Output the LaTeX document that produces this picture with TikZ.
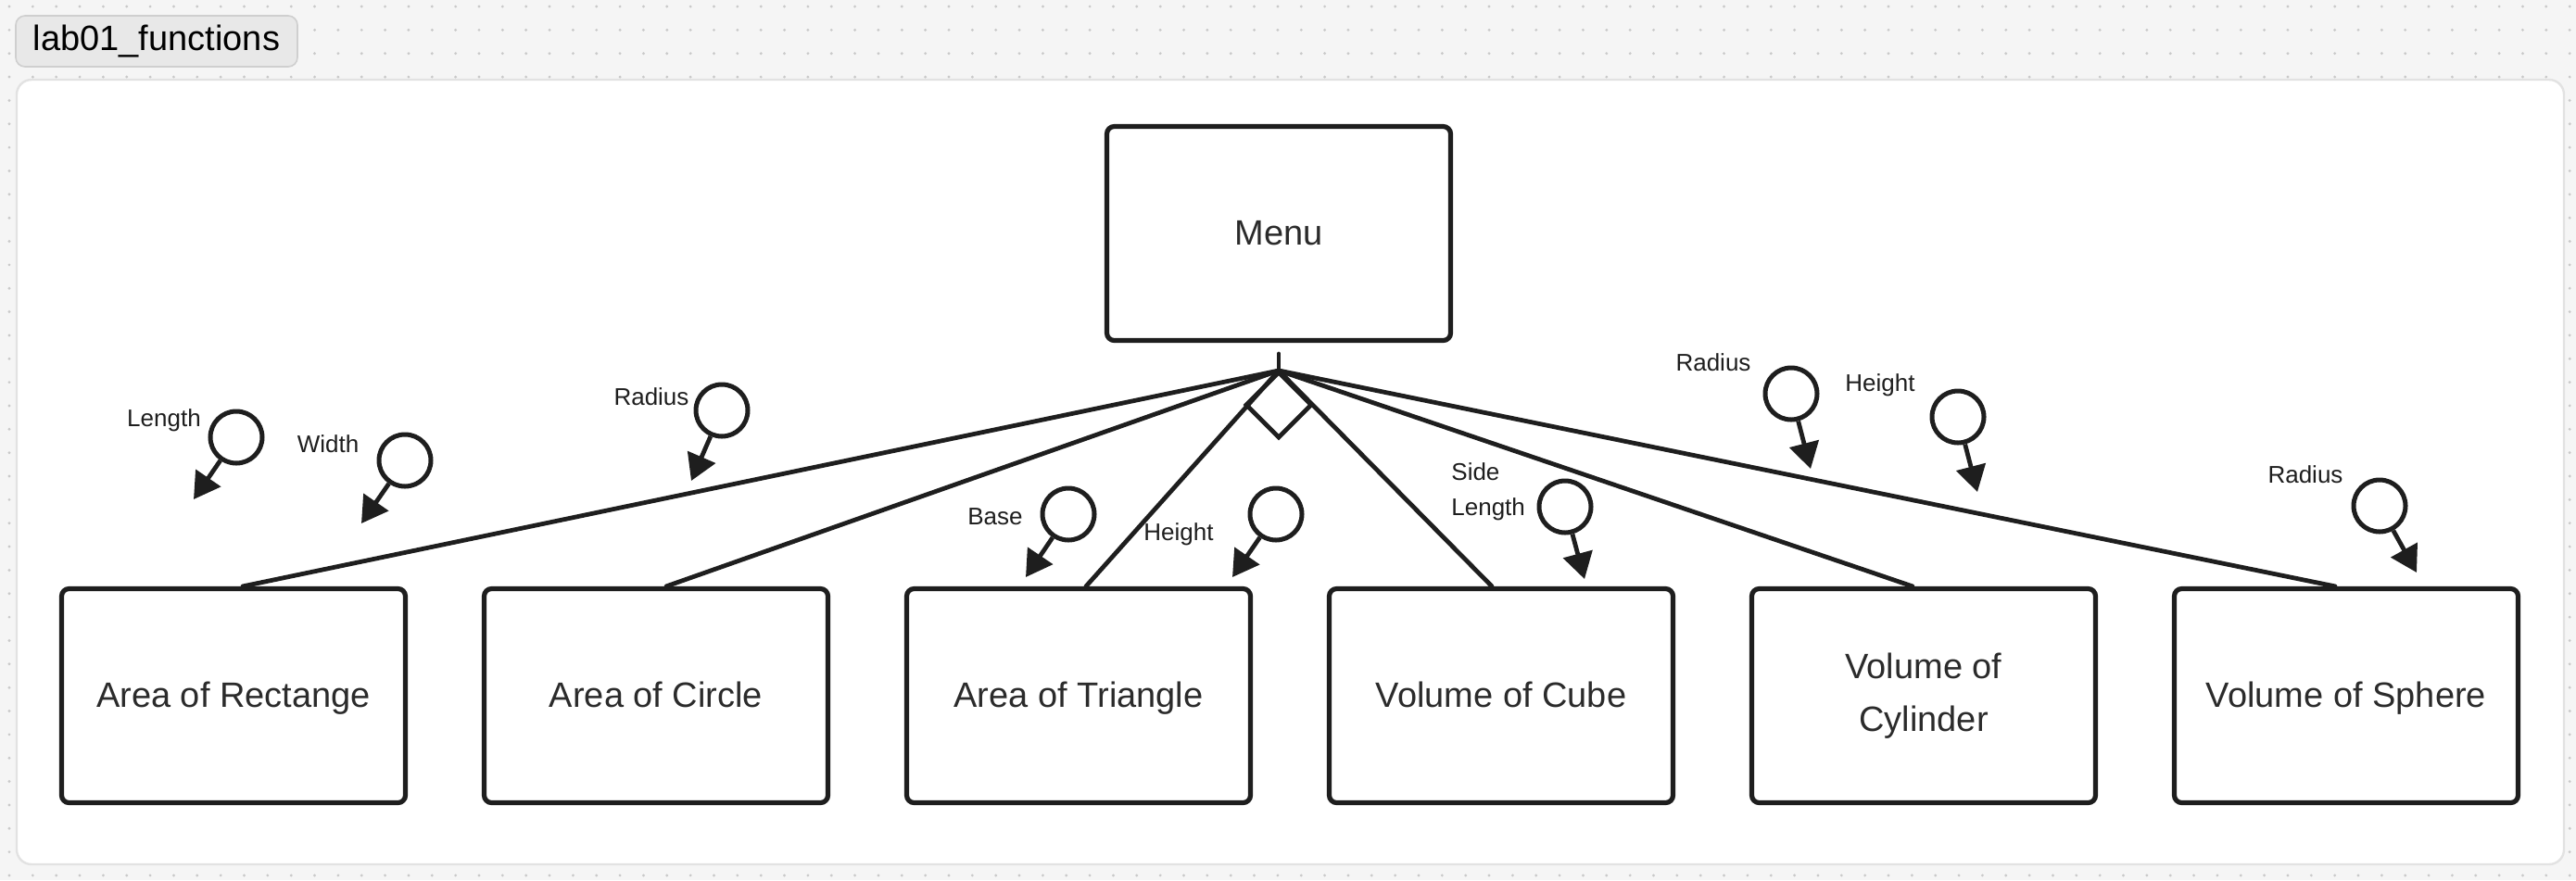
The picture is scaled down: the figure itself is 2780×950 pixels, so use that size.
\documentclass[tikz,border=0pt]{standalone}
\usepackage{fontspec}
\setmainfont{Liberation Sans}
\usetikzlibrary{arrows.meta,shapes.geometric}

\definecolor{ink}{HTML}{1E1E1E}
\definecolor{txt}{HTML}{2B2B2B}
\definecolor{paper}{HTML}{F5F5F5}
\definecolor{griddot}{HTML}{C9C9C9}
\definecolor{pill}{HTML}{E8E8E8}
\definecolor{pillline}{HTML}{CFCFCF}
\definecolor{frameline}{HTML}{E2E2E2}

\newcommand{\funcstrut}{\rule[-4.2pt]{0pt}{20.4pt}}

\tikzset{
    func/.style={draw=ink, line width=2.6pt, rounded corners=4pt, fill=white,
        minimum width=185.5pt, minimum height=115.5pt, align=center,
        font=\fontsize{19}{28.5}\selectfont, text=txt,
        execute at begin node=\funcstrut},
    param/.style={circle, draw=ink, line width=2.5pt, minimum size=28pt, inner sep=0pt},
    plabel/.style={font=\fontsize{13}{19}\selectfont, text=ink, inner sep=0pt},
    link/.style={draw=ink, line width=2.4pt, line cap=round},
    pass/.style={draw=ink, line width=2.4pt, -{Triangle[length=14pt,width=16pt]}},
}

\begin{document}
\begin{tikzpicture}[x=0.5pt, y=-0.5pt]
    \useasboundingbox (0,0) rectangle (2780,950);

    % board with dot grid
    \fill[paper] (0,0) rectangle (2780,950);
    \foreach \i in {0,...,109}
        \foreach \j in {0,...,37}
            \fill[griddot] ({10+25.35*\i},{7+25.35*\j}) circle (0.8pt);

    \draw[frameline, line width=1.2pt, fill=white, rounded corners=8pt] (18,86) rectangle (2767,933);
    \node[draw=pillline, fill=pill, rounded corners=5pt, line width=0.8pt,
        minimum width=152pt, minimum height=27.5pt, font=\fontsize{19}{22}\selectfont] (title) at (169,44.5) {lab01\_functions};

    % functions
    \node[func] (menu) at (1380,252) {Menu};
    \node[func] (rect) at (252,751) {Area of Rectange};
    \node[func] (circ) at (708,751) {Area of Circle};
    \node[func] (tri) at (1164,751) {Area of Triangle};
    \node[func] (cube) at (1620,751) {Volume of Cube};
    \node[func] (cyl) at (2076,751) {Volume of\\Cylinder};
    \node[func] (sph) at (2532,751) {Volume of Sphere};

    % calls
    \coordinate (stub) at (1380,382);
    \coordinate (hub) at (1380,400);
    \node[diamond, draw=ink, line width=2.4pt, fill=white, minimum size=36pt, inner sep=0pt] (xor) at (1380,437) {};
    \draw[link] (stub) -- (hub);
    \draw[link] (hub) -- ([xshift=5pt]rect.north);
    \draw[link] (hub) -- ([xshift=5.5pt]circ.north);
    \draw[link] (hub) -- ([xshift=4pt]tri.north);
    \draw[link] (hub) -- ([xshift=-5pt]cube.north);
    \draw[link] (hub) -- ([xshift=-6pt]cyl.north);
    \draw[link] (hub) -- ([xshift=-6pt]sph.north);

    % parameters
    \node[param] (len) at (255,472) {};
    \coordinate (lenTip) at (209,539);
    \node[plabel] (lenLbl) at (177,454) {Length};
    \draw[pass] (len) -- (lenTip);

    \node[param] (wid) at (437,497) {};
    \coordinate (widTip) at (390,565);
    \node[plabel] (widLbl) at (354,479) {Width};
    \draw[pass] (wid) -- (widTip);

    \node[param] (radC) at (779,443) {};
    \coordinate (radCTip) at (746,519);
    \node[plabel] (radCLbl) at (703,428) {Radius};
    \draw[pass] (radC) -- (radCTip);

    \node[param] (base) at (1153,555) {};
    \coordinate (baseTip) at (1107,623);
    \node[plabel] (baseLbl) at (1074,558) {Base};
    \draw[pass] (base) -- (baseTip);

    \node[param] (hgtT) at (1377,555) {};
    \coordinate (hgtTTip) at (1330,623);
    \node[plabel] (hgtTLbl) at (1272,577) {Height};
    \draw[pass] (hgtT) -- (hgtTTip);

    \node[param] (side) at (1689,547) {};
    \coordinate (sideTip) at (1710,625);
    \node[plabel, align=left, anchor=west] (sideLbl) at (1566,531) {Side\\Length};
    \draw[pass] (side) -- (sideTip);

    \node[param] (radY) at (1933,425) {};
    \coordinate (radYTip) at (1954,506);
    \node[plabel] (radYLbl) at (1849,391) {Radius};
    \draw[pass] (radY) -- (radYTip);

    \node[param] (hgtY) at (2113,450) {};
    \coordinate (hgtYTip) at (2134,531);
    \node[plabel] (hgtYLbl) at (2029,416) {Height};
    \draw[pass] (hgtY) -- (hgtYTip);

    \node[param] (radS) at (2568,546) {};
    \coordinate (radSTip) at (2608,618);
    \node[plabel] (radSLbl) at (2488,512) {Radius};
    \draw[pass] (radS) -- (radSTip);
\end{tikzpicture}
\end{document}
